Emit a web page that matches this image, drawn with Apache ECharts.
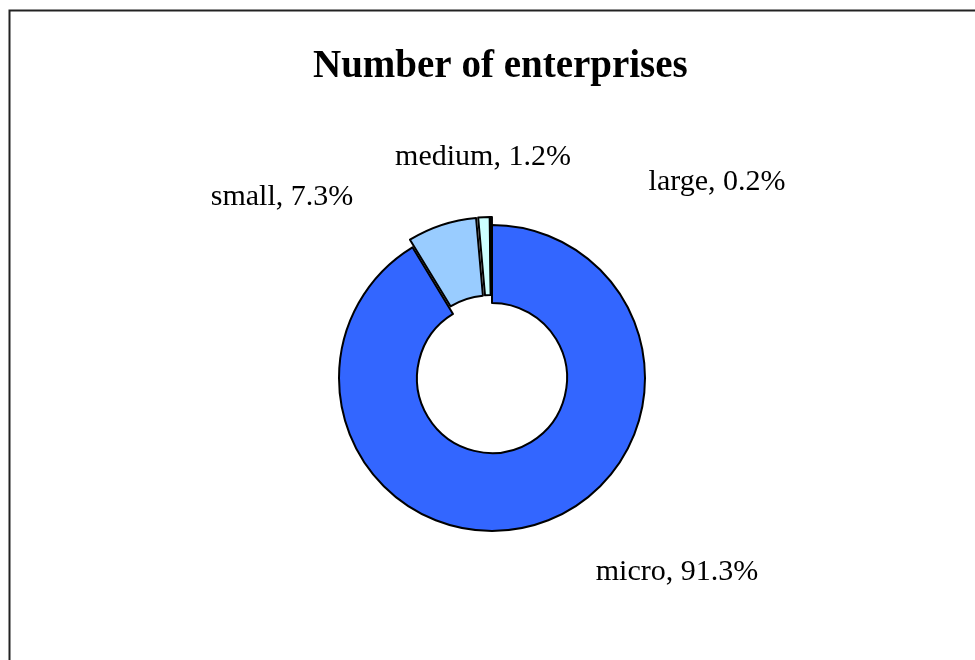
<!DOCTYPE html>
<html>
<head>
<meta charset="utf-8">
<title>Number of enterprises</title>
<script src="https://cdn.jsdelivr.net/npm/echarts@6/dist/echarts.min.js"></script>
<style>
  html, body { margin: 0; padding: 0; background: #fff; }
  #chart { width: 975px; height: 660px; }
</style>
</head>
<body>
<div id="chart"></div>
<script>
// Enterprise size classes and their shares (%)
const categories = ['micro', 'small', 'medium', 'large'];
const shares = [91.3, 7.3, 1.2, 0.2];
const sliceColors = ['#3366FF', '#99CCFF', '#CCFFFF', '#CCFFFF'];
// slices pulled out of the ring
const pulledOut = ['small', 'medium', 'large'];

// label anchor for each class (text centre, px)
const labelAnchor = {
  micro:  [677, 572],
  small:  [282, 197],
  medium: [483, 157],
  large:  [717, 182]
};

const serif = '"Liberation Serif", "Times New Roman", "DejaVu Serif", serif';
const ringCenter = [492, 378];
const ringRadius = [75, 153];

const chart = echarts.init(document.getElementById('chart'), null, { renderer: 'canvas' });

chart.setOption({
  animation: false,
  backgroundColor: '#fff',
  title: {
    text: 'Number of enterprises',
    left: 308,
    top: 42,
    textStyle: { fontFamily: serif, fontSize: 39, fontWeight: 'bold', color: '#000' }
  },
  graphic: [{
    type: 'rect',
    shape: { x: 9.5, y: 10.5, width: 1000, height: 700 },
    style: { fill: 'none', stroke: '#222', lineWidth: 2 },
    silent: true
  }],
  series: [
    // the ring itself, with the smaller classes pulled outwards
    {
      type: 'pie',
      center: ringCenter,
      radius: ringRadius,
      startAngle: 90,
      clockwise: true,
      selectedMode: 'multiple',
      selectedOffset: 8,
      emphasis: { disabled: true },
      itemStyle: { borderColor: '#000', borderWidth: 2 },
      label: { show: false },
      labelLine: { show: false },
      data: categories.map((name, i) => ({
        name: name,
        value: shares[i],
        selected: pulledOut.includes(name),
        itemStyle: { color: sliceColors[i] }
      }))
    },
    // transparent copy of the ring that carries the category labels
    {
      type: 'pie',
      center: ringCenter,
      radius: ringRadius,
      startAngle: 90,
      clockwise: true,
      silent: true,
      z: 1,
      avoidLabelOverlap: false,
      emphasis: { disabled: true },
      itemStyle: { color: 'rgba(0,0,0,0)', borderWidth: 0 },
      label: {
        show: true,
        position: 'outside',
        formatter: p => p.name + ', ' + p.value.toFixed(1) + '%',
        fontFamily: serif,
        fontSize: 30,
        color: '#000'
      },
      labelLine: { show: false },
      labelLayout: params => {
        const a = labelAnchor[categories[params.dataIndex]];
        return { x: a[0], y: a[1], align: 'center', verticalAlign: 'middle' };
      },
      data: categories.map((name, i) => ({ name: name, value: shares[i] }))
    }
  ]
});
</script>
</body>
</html>
